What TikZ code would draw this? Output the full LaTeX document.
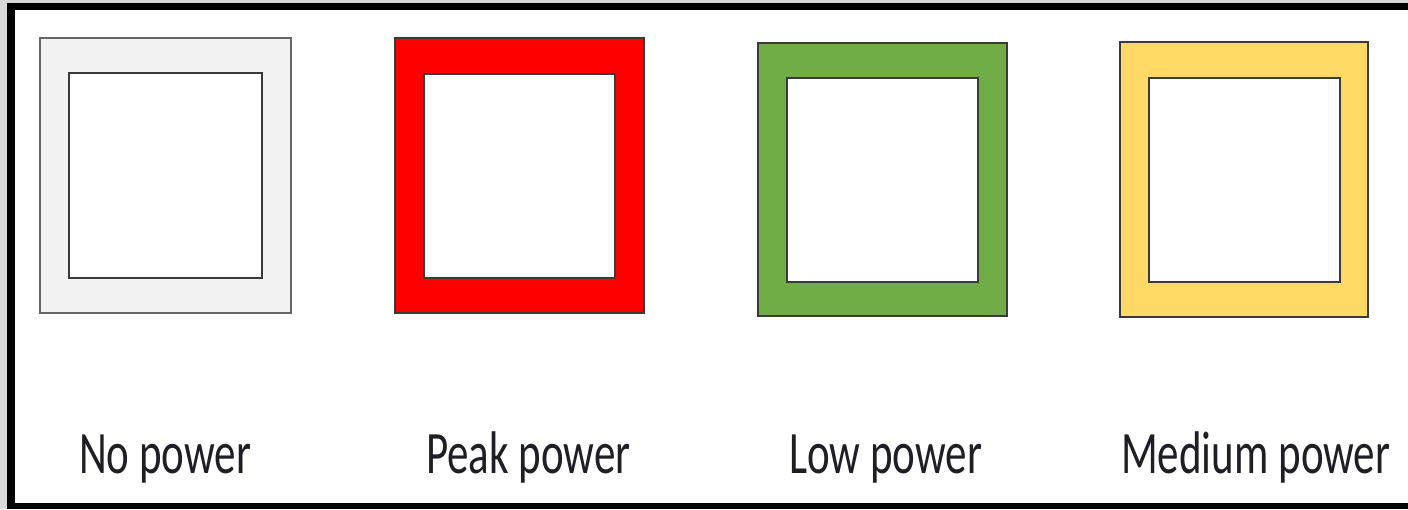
\documentclass[tikz,border=0pt]{standalone}
\usepackage{fontspec}
\setmainfont{Carlito}
\usepackage{graphicx}
\definecolor{framegray}{HTML}{D9D9D9}
\definecolor{boxgray}{HTML}{F2F2F2}
\definecolor{boxred}{HTML}{FF0000}
\definecolor{boxgreen}{HTML}{70AD47}
\definecolor{boxyellow}{HTML}{FFD966}
\definecolor{edgedark}{HTML}{3A3A3A}
\definecolor{textdark}{HTML}{1E1E24}
\tikzset{
  outerbox/.style={draw=edgedark, line width=1.6pt},
  innerbox/.style={draw=edgedark, fill=white, line width=1.8pt},
  legendlabel/.style={anchor=base west, inner sep=0pt, text=textdark,
    font=\fontsize{43}{50}\selectfont}
}
\newcommand{\stretchtext}[1]{\scalebox{1}[1.4]{#1}}
\begin{document}
\begin{tikzpicture}[x=1pt,y=-1pt]
\useasboundingbox (0,0) rectangle (1408,509);
% frame
\fill[framegray] (0,0) rectangle (1408,509);
\fill[black] (7,3) rectangle (1408,509);
\fill[white] (15,10) rectangle (1408,503);
% boxes
\draw[outerbox, draw=gray!80!black, fill=boxgray] (40,38) rectangle (291,313);
\draw[innerbox] (69,73) rectangle (262,278);
\draw[outerbox, fill=boxred] (395,38) rectangle (644,313);
\draw[innerbox] (424,74) rectangle (615,278);
\draw[outerbox, fill=boxgreen] (758,43) rectangle (1007,316);
\draw[innerbox] (787,78) rectangle (978,282);
\draw[outerbox, fill=boxyellow] (1120,42) rectangle (1368,317);
\draw[innerbox] (1149,78) rectangle (1340,282);
% labels
\node[legendlabel] (l1) at (79,473) {\stretchtext{No power}};
\node[legendlabel] (l2) at (426,473) {\stretchtext{Peak power}};
\node[legendlabel] (l3) at (789,473) {\stretchtext{Low power}};
\node[legendlabel] (l4) at (1121,473) {\stretchtext{Medium power}};
\end{tikzpicture}
\end{document}
